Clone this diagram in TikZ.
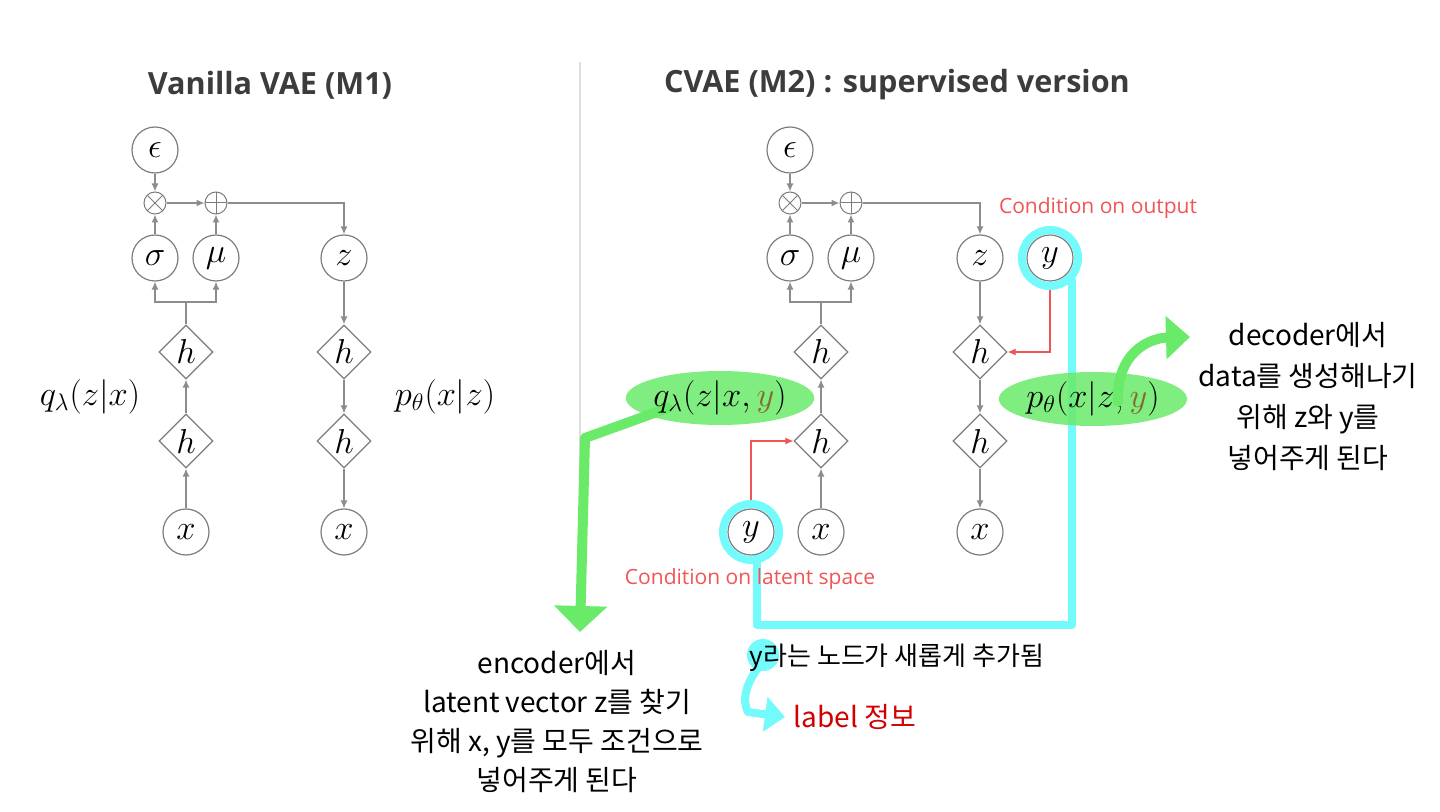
\documentclass[tikz,border=0pt]{standalone}
\usepackage{fontspec}
\setmainfont{Open Sans}
\newfontfamily\hand{Noto Sans CJK KR}
\usetikzlibrary{shapes.geometric,arrows.meta}

\definecolor{edgegray}{RGB}{140,140,140}
\definecolor{ringgray}{RGB}{125,125,125}
\definecolor{condred}{RGB}{240,85,85}
\definecolor{hlgreen}{RGB}{105,235,105}
\definecolor{hlcyan}{RGB}{115,250,250}
\definecolor{titlegray}{RGB}{60,60,60}
\definecolor{ybrown}{RGB}{135,105,45}
\definecolor{inkred}{RGB}{210,0,0}

\tikzset{
  var/.style={circle, draw=ringgray, line width=0.6pt, fill=white, minimum size=23pt, inner sep=0pt, font=\fontsize{16}{18}\selectfont},
  hid/.style={diamond, draw=ringgray, line width=0.6pt, fill=white, minimum width=27pt, minimum height=27pt, inner sep=0pt, font=\fontsize{16}{18}\selectfont},
  opmul/.style={circle, draw=ringgray, line width=0.5pt, minimum size=11pt, inner sep=0pt,
    path picture={\draw[ringgray, line width=0.5pt] (path picture bounding box.north west) -- (path picture bounding box.south east) (path picture bounding box.north east) -- (path picture bounding box.south west);}},
  opadd/.style={circle, draw=ringgray, line width=0.5pt, minimum size=11pt, inner sep=0pt,
    path picture={\draw[ringgray, line width=0.5pt] (path picture bounding box.north) -- (path picture bounding box.south) (path picture bounding box.west) -- (path picture bounding box.east);}},
  link/.style={draw=edgegray, line width=0.7pt, -{Latex[length=4pt,width=3.5pt]}},
  plain/.style={draw=edgegray, line width=0.7pt},
  condlink/.style={draw=condred, line width=0.6pt, -{Latex[length=4pt,width=3.5pt]}},
  condtext/.style={text=condred, font=\fontsize{10.5}{12}\selectfont},
  dist/.style={font=\fontsize{18.5}{20}\selectfont, inner sep=2pt},
  hlblob/.style={ellipse, fill=hlgreen, fill opacity=0.85, text opacity=1, font=\fontsize{17.5}{20}\selectfont, minimum width=73pt, minimum height=27pt, inner sep=0pt},
  heading/.style={text=titlegray, font=\bfseries\fontsize{15.3}{18}\selectfont},
  handnote/.style={font=\hand\fontsize{14}{19.5}\selectfont, align=center},
  marker/.style={line width=#1, line cap=round, line join=round},
}

\begin{document}
\begin{tikzpicture}[x=0.5pt, y=-0.5pt]
  \useasboundingbox[fill=white] (0,0) rectangle (1440,812);

  \draw[draw=black!13, line width=0.6pt] (580,62) -- (580,625);

  \node[heading] (titleA) at (270,85) {Vanilla VAE (M1)};
  \node[heading] (titleB) at (897,85) {CVAE (M2) : supervised version};

  % vanilla VAE
  \node[var] (epsA) at (155,150) {$\epsilon$};
  \node[opmul] (mulA) at (155,203) {};
  \node[opadd] (addA) at (216,203) {};
  \node[var] (sigA) at (155,258) {$\sigma$};
  \node[var] (muA) at (216,258) {$\mu$};
  \node[var] (zA) at (344,258) {$z$};
  \node[hid] (encA) at (186,352) {$h$};
  \node[hid] (enc2A) at (186,441) {$h$};
  \node[var] (xinA) at (186,532) {$x$};
  \node[hid] (decA) at (344,352) {$h$};
  \node[hid] (dec2A) at (344,441) {$h$};
  \node[var] (xoutA) at (344,532) {$x$};
  \coordinate (forkA) at (186,302);
  \node[dist] (qA) at (90,397) {$q_\lambda(z|x)$};
  \node[dist] (pA) at (445,397) {$p_\theta(x|z)$};

  \draw[link] (epsA) -- (mulA);
  \draw[link] (sigA) -- (mulA);
  \draw[link] (muA) -- (addA);
  \draw[link] (mulA) -- (addA);
  \draw[link] (addA) -| (zA);
  \draw[plain] (encA) -- (forkA);
  \draw[link] (forkA) -| (sigA);
  \draw[link] (forkA) -| (muA);
  \draw[link] (enc2A) -- (encA);
  \draw[link] (xinA) -- (enc2A);
  \draw[link] (zA) -- (decA);
  \draw[link] (decA) -- (dec2A);
  \draw[link] (dec2A) -- (xoutA);

  % CVAE, cyan marker under the graph
  \draw[hlcyan, marker=4pt] (1072,280) -- (1072,625) -- (757,625) -- (757,556);

  \node[var] (epsB) at (790,150) {$\epsilon$};
  \node[opmul] (mulB) at (790,203) {};
  \node[opadd] (addB) at (851,203) {};
  \node[var] (sigB) at (790,258) {$\sigma$};
  \node[var] (muB) at (851,258) {$\mu$};
  \node[var] (zB) at (980,258) {$z$};
  \node[var] (youtB) at (1050,258) {$y$};
  \node[hid] (encB) at (821,352) {$h$};
  \node[hid] (enc2B) at (821,441) {$h$};
  \node[var] (xinB) at (821,532) {$x$};
  \node[var] (yinB) at (751,532) {$y$};
  \node[hid] (decB) at (980,352) {$h$};
  \node[hid] (dec2B) at (980,441) {$h$};
  \node[var] (xoutB) at (980,532) {$x$};
  \coordinate (forkB) at (821,302);

  \draw[link] (epsB) -- (mulB);
  \draw[link] (sigB) -- (mulB);
  \draw[link] (muB) -- (addB);
  \draw[link] (mulB) -- (addB);
  \draw[link] (addB) -| (zB);
  \draw[plain] (encB) -- (forkB);
  \draw[link] (forkB) -| (sigB);
  \draw[link] (forkB) -| (muB);
  \draw[link] (enc2B) -- (encB);
  \draw[link] (xinB) -- (enc2B);
  \draw[link] (zB) -- (decB);
  \draw[link] (decB) -- (dec2B);
  \draw[link] (dec2B) -- (xoutB);
  \draw[condlink] (youtB) |- (decB.east);
  \draw[condlink] (yinB) |- (enc2B.west);

  \node[condtext] (condOut) at (1098,208) {Condition on output};
  \node[condtext] (condLat) at (750,579) {Condition on latent space};

  \draw[hlcyan, marker=4pt] (youtB) circle[radius=14pt];
  \draw[hlcyan, marker=4pt] (yinB) circle[radius=14pt];

  % notes
  \draw[hlgreen, marker=5pt, -{Triangle[width=26pt,length=13pt]}] (668,408) -- (585,438) -- (580,632);

  \node[hlblob] (qB) at (720,398) {$q_\lambda(z|x,{\color{ybrown}y})$};
  \node[hlblob, minimum width=77pt] (pB) at (1093,399) {$p_\theta(x|z,{\color{ybrown}y})$};

  \draw[hlgreen, marker=5pt, -{Triangle[width=21pt,length=12pt]}] (1118,402) .. controls (1116,352) and (1150,338) .. (1190,337);

  \node[handnote] (noteEnc) at (557,722) {encoder에서\\latent vector z를 찾기\\위해 x, y를 모두 조건으로\\넣어주게 된다};
  \node[handnote, font=\hand\fontsize{14}{20.5}\selectfont] (noteDec) at (1308,397) {decoder에서\\data를 생성해나기\\위해 z와 y를\\넣어주게 된다};

  \fill[hlcyan] (763,655) circle[radius=8pt];
  \draw[hlcyan, marker=4pt, -{Triangle[width=17pt,length=10pt]}] (760,665) .. controls (745,685) and (742,700) .. (748,712) -- (785,717);
  \node[handnote, font=\hand\fontsize{13}{18}\selectfont] (noteY) at (897,658) {y라는 노드가 새롭게 추가됨};
  \node[handnote, text=inkred] (noteLabel) at (855,717) {label 정보};
\end{tikzpicture}
\end{document}
